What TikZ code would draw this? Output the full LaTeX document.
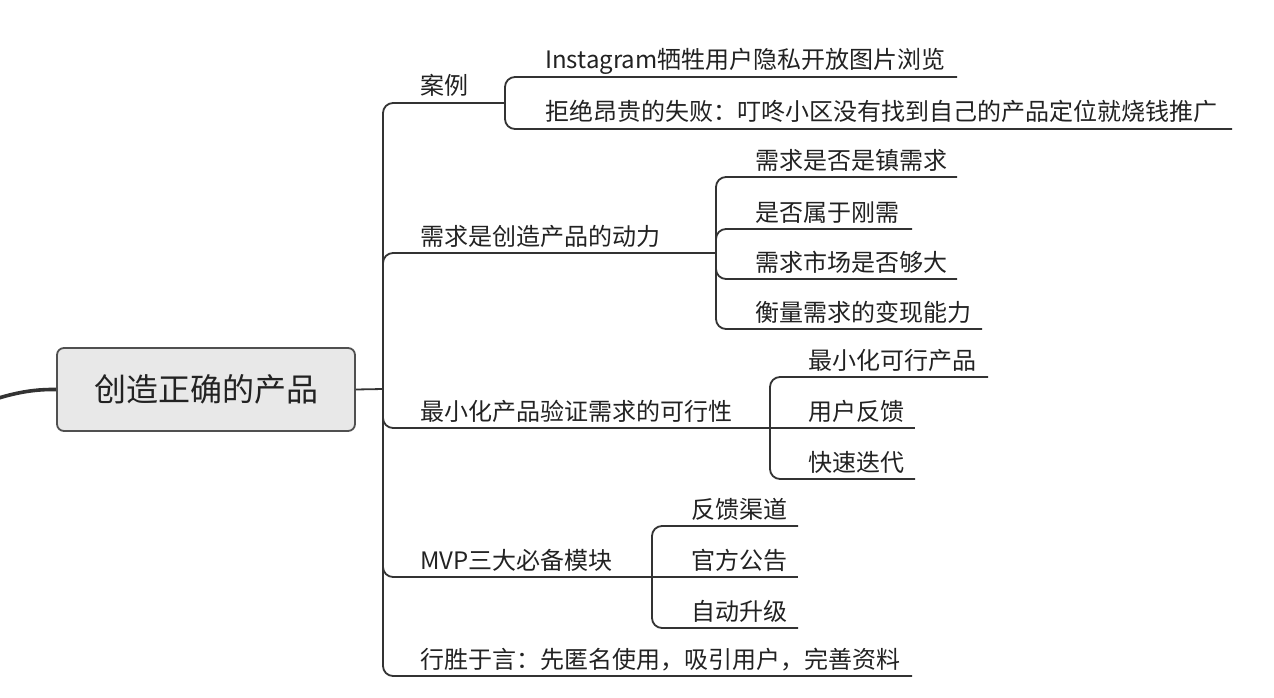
\documentclass[tikz,border=0pt]{standalone}
\usepackage{fontspec}
\setmainfont{Noto Sans CJK SC}
\definecolor{linec}{HTML}{333333}
\definecolor{txtc}{HTML}{222222}
\definecolor{rootfill}{HTML}{E8E8E8}
\definecolor{rootdraw}{HTML}{505050}
\tikzset{
  conn/.style={draw=linec, line width=1.8pt, rounded corners=10pt},
  lbl/.style={anchor=base west, inner sep=0pt, text=txtc, font=\fontsize{24}{24}\selectfont},
  rootbox/.style={draw=rootdraw, fill=rootfill, line width=1.8pt, rounded corners=7pt,
    minimum width=298pt, minimum height=83pt, inner sep=0pt, text=txtc,
    font=\fontsize{32}{32}\selectfont}
}
\begin{document}
\begin{tikzpicture}[x=1pt,y=-1pt]
\useasboundingbox (0,0) rectangle (1274,698);
\clip (0,0) rectangle (1274,698);
\fill[white] (0,0) rectangle (1274,698);
% root
\node[rootbox] (root) at (206,389.5) {创造正确的产品};
\coordinate (src) at (-40,412);
\draw[draw=linec, line width=3.6pt] (src) .. controls (0,396) and (25,389) .. (root.west);
\coordinate (J) at (383,389);
\draw[conn] (root.east) -- (J);
% branch 1
\coordinate (b1e) at (505,103);
\node[lbl] (b1) at (420,95) {案例};
\draw[conn] (J) |- (b1e);
\coordinate (l1ae) at (957,77);
\node[lbl] (l1a) at (545,69) {Instagram牺牲用户隐私开放图片浏览};
\draw[conn] (b1e) |- (l1ae);
\coordinate (l1be) at (1232,129);
\node[lbl] (l1b) at (545,121) {拒绝昂贵的失败：叮咚小区没有找到自己的产品定位就烧钱推广};
\draw[conn] (b1e) |- (l1be);
% branch 2
\coordinate (b2e) at (716,253);
\node[lbl] (b2) at (420,245) {需求是创造产品的动力};
\draw[conn] (J) |- (b2e);
\coordinate (l2ae) at (957,177);
\node[lbl] (l2a) at (755,169) {需求是否是镇需求};
\draw[conn] (b2e) |- (l2ae);
\coordinate (l2be) at (912,229);
\node[lbl] (l2b) at (755,221) {是否属于刚需};
\draw[conn] (b2e) |- (l2be);
\coordinate (l2ce) at (957,279);
\node[lbl] (l2c) at (755,271) {需求市场是否够大};
\draw[conn] (b2e) |- (l2ce);
\coordinate (l2de) at (982,329);
\node[lbl] (l2d) at (755,321) {衡量需求的变现能力};
\draw[conn] (b2e) |- (l2de);
% branch 3
\coordinate (b3e) at (770,428);
\node[lbl] (b3) at (420,420) {最小化产品验证需求的可行性};
\draw[conn] (J) |- (b3e);
\coordinate (l3ae) at (988,377);
\node[lbl] (l3a) at (808,369) {最小化可行产品};
\draw[conn] (b3e) |- (l3ae);
\coordinate (l3be) at (915,428);
\node[lbl] (l3b) at (808,420) {用户反馈};
\draw[conn] (b3e) -- (l3be);
\coordinate (l3ce) at (915,479);
\node[lbl] (l3c) at (808,471) {快速迭代};
\draw[conn] (b3e) |- (l3ce);
% branch 4
\coordinate (b4e) at (652,577);
\node[lbl] (b4) at (420,569) {MVP三大必备模块};
\draw[conn] (J) |- (b4e);
\coordinate (l4ae) at (798,526);
\node[lbl] (l4a) at (691,518) {反馈渠道};
\draw[conn] (b4e) |- (l4ae);
\coordinate (l4be) at (798,577);
\node[lbl] (l4b) at (691,569) {官方公告};
\draw[conn] (b4e) -- (l4be);
\coordinate (l4ce) at (798,628);
\node[lbl] (l4c) at (691,620) {自动升级};
\draw[conn] (b4e) |- (l4ce);
% branch 5
\coordinate (b5e) at (912,676);
\node[lbl] (b5) at (420,668) {行胜于言：先匿名使用，吸引用户，完善资料};
\draw[conn] (J) |- (b5e);
\end{tikzpicture}
\end{document}
